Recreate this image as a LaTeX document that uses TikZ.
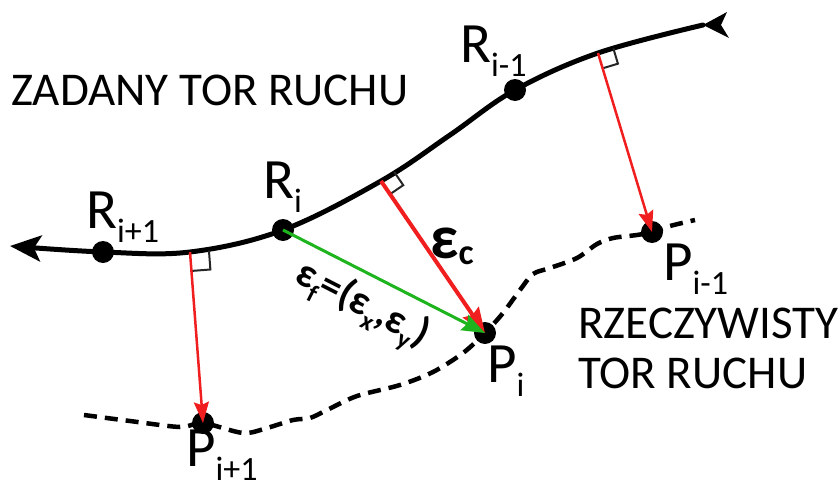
\documentclass[tikz,border=0pt]{standalone}
\usepackage{fontspec}
\setmainfont{Carlito}
\usetikzlibrary{arrows.meta,calc}
\definecolor{myred}{RGB}{240,30,30}
\definecolor{mygreen}{RGB}{30,180,30}
\newcommand\lblsub[2]{#1\raisebox{-0.25em}{\fontsize{34}{34}\selectfont #2}}
\newcommand\epsub[1]{\raisebox{-0.25em}{\fontsize{25}{25}\selectfont #1}}
\begin{document}
\begin{tikzpicture}[x=1pt,y=-1pt,
  trackline/.style={line width=5pt,line cap=round},
  realline/.style={line width=4.5pt,dash pattern=on 13pt off 8pt},
  dot/.style={circle,fill=black,minimum size=22pt,inner sep=0pt},
  lab/.style={anchor=base west,inner sep=0pt,font=\fontsize{57}{57}\selectfont},
  txt/.style={anchor=base west,inner sep=0pt,font=\fontsize{47}{50}\selectfont,align=left},
  errarrow/.style={draw=myred,line width=2.5pt,-{Stealth[length=21pt,width=15pt,inset=3pt,fill=myred]}},
  errarrowbig/.style={draw=myred,line width=4pt,-{Stealth[length=25pt,width=19pt,inset=3pt,fill=myred]}},
  vecarrow/.style={draw=mygreen,line width=3pt,-{Stealth[length=23pt,width=17pt,inset=3pt,fill=mygreen]}},
  rmark/.style={draw=black!85,line width=2pt}
]
\useasboundingbox (0,0) rectangle (839,490);

% given track points
\coordinate (S0) at (10,246);
\coordinate (F1) at (190,252);
\coordinate (F2) at (381,181);
\coordinate (M1) at (450,135);
\coordinate (F3) at (598,53);
\coordinate (E) at (703,25);

% dots
\node[dot] (Ri1) at (103,252) {};
\node[dot] (Ri) at (283,230) {};
\node[dot] (Rim) at (515,90) {};
\node[dot] (Pi1) at (203,423) {};
\node[dot] (Pi) at (485,333) {};
\node[dot] (Pim) at (652,232) {};

% given track
\draw[trackline,-{Stealth[length=31pt,width=26pt,inset=7pt]}]
  plot[smooth,tension=0.6] coordinates {(E) (F3) (Rim.center) (M1) (F2) (Ri.center) (F1) (Ri1.center) (S0)};
\fill (E) -- (727,12) -- (721,25) -- (729,38) -- cycle;

% real track
\draw[realline]
  plot[smooth,tension=0.5] coordinates {(84,415) (130,421) (180,427) (Pi1.center) (243,433) (267,428) (293,420) (310,418) (327,410) (357,396) (400,385) (433,372) (463,353) (Pi.center) (503,313) (520,290) (533,274) (550,268) (577,258) (597,244) (613,238) (637,235) (Pim.center) (670,226) (695,220)};

% right-angle marks
\foreach \f/\p/\s in {F1/Pi1/19pt, F2/Pi/16pt, F3/Pim/16pt}{
  \coordinate (ra) at ($(\f)!\s!90:(\p)$);
  \coordinate (rb) at ($(\f)!\s!(\p)$);
  \draw[rmark] (ra) -- ($(ra)+(rb)-(\f)$) -- (rb);
}

% error arrows
\draw[errarrow] (F1) -- (Pi1.center);
\draw[errarrowbig] (F2) -- (Pi.center);
\draw[errarrow] (F3) -- (Pim.center);
\draw[vecarrow] (Ri.center) -- (Pi.center);

% labels
\node[lab] (lRim) at (460,62) {\lblsub{R}{i-1}};
\node[lab] (lRi) at (263,198) {\lblsub{R}{i}};
\node[lab] (lRi1) at (86,228) {\lblsub{R}{i+1}};
\node[lab] (lPim) at (663,280) {\lblsub{P}{i-1}};
\node[lab] (lPi) at (487,382) {\lblsub{P}{i}};
\node[lab] (lPi1) at (186,466) {\lblsub{P}{i+1}};

\node[txt] (zad) at (11,105) {ZADANY TOR RUCHU};
\node[txt] (rzecz) at (578,388) {RZECZYWISTY\\TOR RUCHU};

\node[anchor=base west,inner sep=0pt,font=\bfseries\fontsize{62}{62}\selectfont] (ec) at (430,258) {ε\raisebox{-0.1em}{\fontsize{36}{36}\selectfont c}};
\node[rotate=-27,inner sep=0pt,font=\bfseries\fontsize{41}{41}\selectfont] (ef) at (361,307) {ε\epsub{f}=(ε\epsub{x},ε\epsub{y})};
\end{tikzpicture}
\end{document}
